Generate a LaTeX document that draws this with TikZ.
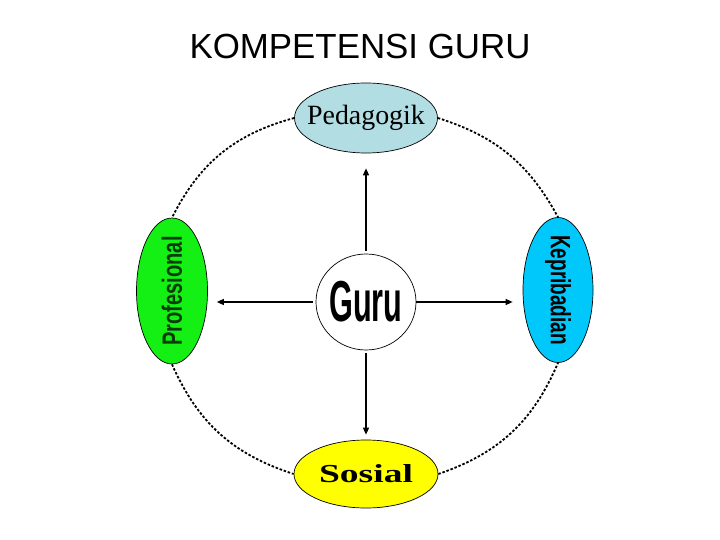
\documentclass[tikz,border=0pt]{standalone}
\usepackage{fontspec}
\setmainfont{Liberation Serif}
\setsansfont{Liberation Sans}
\usepackage{graphicx}
\usepackage{xcolor}
\usetikzlibrary{positioning, shapes.geometric, arrows.meta}

\definecolor{pedblue}{RGB}{178,221,227}
\definecolor{profgreen}{RGB}{20,240,20}
\definecolor{profink}{RGB}{10,60,10}
\definecolor{kepblue}{RGB}{0,200,250}
\definecolor{sosyellow}{RGB}{255,255,0}

\begin{document}
\begin{tikzpicture}[x=1bp, y=-1bp,
    comp/.style={ellipse, draw, line width=0.7bp, inner sep=-10bp},
    link/.style={line width=1.8bp, dash pattern=on 2.5bp off 1.8bp},
    arr/.style={-{Triangle[length=7bp, width=6bp]}, line width=1.3bp}]
    \useasboundingbox (0,0) rectangle (720,540);

    % Title
    \node (title) at (360,46) {\sffamily\fontsize{35}{40}\selectfont KOMPETENSI GURU};

    % Centre
    \node[comp, fill=white, minimum width=100bp, minimum height=96bp] (guru) at (366,302)
        {\sffamily\bfseries\fontsize{58}{60}\selectfont\scalebox{0.53}[1]{Guru}};

    % The four competencies
    \node[comp, fill=pedblue, minimum width=143bp, minimum height=70bp] (ped) at (366,118)
        {\fontsize{28}{30}\selectfont Pedagogik};
    \node[comp, fill=profgreen, minimum width=71bp, minimum height=146bp] (prof) at (172,291)
        {\rotatebox{90}{\sffamily\bfseries\fontsize{28}{30}\selectfont\color{profink}\scalebox{0.72}[1]{Profesional}}};
    \node[comp, fill=kepblue, minimum width=70bp, minimum height=145bp] (kep) at (558,290)
        {\rotatebox{-90}{\sffamily\bfseries\fontsize{28}{30}\selectfont\scalebox{0.68}[1]{Kepribadian}}};
    \node[comp, fill=sosyellow, minimum width=144bp, minimum height=68bp] (sos) at (366,474)
        {\bfseries\fontsize{26}{28}\selectfont\scalebox{1.45}[1]{Sosial}};

    % Arrows from the centre
    \draw[arr, shorten <=3bp, shorten >=15bp] (guru.north) -- (ped.south);
    \draw[arr, shorten <=3bp, shorten >=5bp] (guru.south) -- (sos.north);
    \draw[arr, shorten <=3bp, shorten >=9bp] (guru.west) -- (prof.east |- guru.west);
    \draw[arr, shorten >=10bp] (guru.east) -- (kep.west |- guru.east);

    % Dotted ring
    \draw[link] (ped.west) to[bend right=24] (prof.north);
    \draw[link] (ped.east) to[bend left=22] (kep.north);
    \draw[link] (prof.south) to[bend right=24] (sos.west);
    \draw[link] (sos.east) to[bend right=24] (kep.south);
\end{tikzpicture}
\end{document}
